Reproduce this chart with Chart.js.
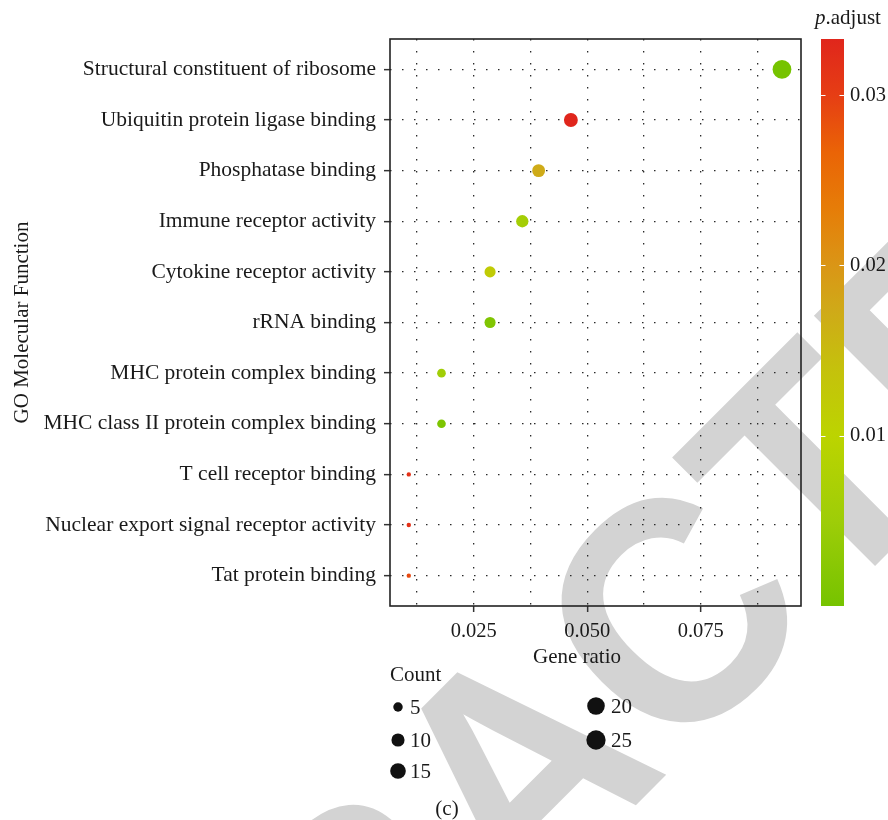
<!DOCTYPE html>
<html>
<head>
<meta charset="utf-8">
<script src="https://cdn.jsdelivr.net/npm/chart.js@4.4.1/dist/chart.umd.min.js"></script>
<style>
  html, body { margin: 0; padding: 0; background: #ffffff; overflow: hidden; }
  #wrap { width: 888px; height: 820px; position: relative; }
  canvas { display: block; }
</style>
</head>
<body>
<div id="wrap"><canvas id="dot" width="888" height="820"></canvas></div>
<script>
// GO molecular function enrichment (top to bottom)
const terms = [
  'Structural constituent of ribosome',
  'Ubiquitin protein ligase binding',
  'Phosphatase binding',
  'Immune receptor activity',
  'Cytokine receptor activity',
  'rRNA binding',
  'MHC protein complex binding',
  'MHC class II protein complex binding',
  'T cell receptor binding',
  'Nuclear export signal receptor activity',
  'Tat protein binding'
];
const geneRatio = [0.0929, 0.0464, 0.0393, 0.0357, 0.0286, 0.0286, 0.0179, 0.0179, 0.0107, 0.0107, 0.0107];
const geneCount = [26, 13, 11, 10, 8, 8, 5, 5, 3, 3, 3];
const pAdjust   = [0.0000, 0.0333, 0.0172, 0.0060, 0.0118, 0.0012, 0.0055, 0.0009, 0.0318, 0.0318, 0.0290];

// axis ticks
const ratioTicks = [0.025, 0.050, 0.075];
const ratioMinorTicks = [0.0125, 0.0375, 0.0625, 0.0875];
const pTicks = [0.01, 0.02, 0.03];
const countLegend = [5, 10, 15, 20, 25];

// ---- styling helpers ----
const SERIF = "'Liberation Serif', 'Times New Roman', serif";
const INK = '#1a1a1a';
const pMin = 0, pMax = 0.0333;

// colour ramp for p.adjust (0 = low, 1 = high)
const rampStops = [
  [0.00, [118, 195, 0]],
  [0.15, [158, 205, 8]],
  [0.30, [188, 212, 0]],
  [0.42, [197, 193, 12]],
  [0.52, [207, 170, 24]],
  [0.60, [218, 150, 22]],
  [0.70, [230, 125, 8]],
  [0.80, [234, 100, 6]],
  [0.90, [230, 62, 20]],
  [1.00, [224, 38, 28]]
];
function rampColor(t) {
  t = Math.max(0, Math.min(1, t));
  for (let i = 1; i < rampStops.length; i++) {
    const [t1, c1] = rampStops[i];
    const [t0, c0] = rampStops[i - 1];
    if (t <= t1) {
      const f = (t - t0) / (t1 - t0);
      const c = c0.map((v, k) => Math.round(v + (c1[k] - v) * f));
      return `rgb(${c[0]},${c[1]},${c[2]})`;
    }
  }
  const c = rampStops[rampStops.length - 1][1];
  return `rgb(${c[0]},${c[1]},${c[2]})`;
}
function pColor(p) { return rampColor((p - pMin) / (pMax - pMin)); }

const cMin = Math.min(...geneCount), cMax = Math.max(...geneCount);
function countRadius(n) {
  const t = Math.max(0, (n - cMin) / (cMax - cMin));
  return 2.2 + 7.2 * Math.sqrt(t);
}

const points = terms.map((t, i) => ({ x: geneRatio[i], y: i }));
const isMajor = v => ratioTicks.some(m => Math.abs(m - v) < 1e-9);
const noEdgePadding = s => { s.paddingTop = 0; s.paddingBottom = 0; s.paddingLeft = 0; s.paddingRight = 0; };

// ---- decorations drawn around the chart ----
const decor = {
  id: 'decor',
  beforeDraw(chart) {
    const ctx = chart.ctx;
    ctx.save();
    ctx.fillStyle = '#ffffff';
    ctx.fillRect(0, 0, chart.width, chart.height);
    // diagonal stamp behind the figure, laid out glyph by glyph around its centre
    ctx.translate(595, 846);
    ctx.rotate(-Math.PI / 4);
    ctx.scale(0.94, 1);
    ctx.font = "bold 320px 'Liberation Sans', Arial, sans-serif";
    if ('fontKerning' in ctx) ctx.fontKerning = 'none';
    ctx.textAlign = 'left';
    ctx.textBaseline = 'alphabetic';
    ctx.fillStyle = '#d3d3d3';
    const word = 'RETRACTED';
    const adv = [...word].map(ch => ctx.measureText(ch).width);
    let x = -adv.reduce((a, b) => a + b, 0) / 2;
    [...word].forEach((ch, i) => { ctx.fillText(ch, x, 0); x += adv[i]; });
    ctx.restore();
  },
  afterDatasetsDraw(chart) {
    const ctx = chart.ctx;
    const a = chart.chartArea;
    ctx.save();
    ctx.strokeStyle = '#222';
    ctx.lineWidth = 1.6;
    ctx.strokeRect(a.left, a.top, a.right - a.left, a.bottom - a.top);
    ctx.restore();
  },
  afterDraw(chart) {
    const ctx = chart.ctx;
    const ps = chart.scales.p;
    ctx.save();

    // colour bar
    const barL = 821, barW = 23;
    const yTop = ps.getPixelForValue(pMax), yBot = ps.getPixelForValue(pMin);
    const g = ctx.createLinearGradient(0, yBot, 0, yTop);
    rampStops.forEach(([t, c]) => g.addColorStop(t, `rgb(${c[0]},${c[1]},${c[2]})`));
    ctx.fillStyle = g;
    ctx.fillRect(barL, yTop, barW, yBot - yTop);
    ctx.strokeStyle = '#ffffff';
    ctx.lineWidth = 1;
    pTicks.forEach(v => {
      const y = Math.round(ps.getPixelForValue(v)) + 0.5;
      ctx.beginPath();
      ctx.moveTo(barL, y); ctx.lineTo(barL + 4.5, y);
      ctx.moveTo(barL + barW - 4.5, y); ctx.lineTo(barL + barW, y);
      ctx.stroke();
    });

    // colour bar title: p.adjust
    ctx.fillStyle = INK;
    ctx.textBaseline = 'alphabetic';
    ctx.textAlign = 'left';
    ctx.font = `italic 21px ${SERIF}`;
    ctx.fillText('p', 815, 24);
    const pw = ctx.measureText('p').width;
    ctx.font = `21px ${SERIF}`;
    ctx.fillText('.adjust', 815 + pw, 24);

    // x axis title
    ctx.textAlign = 'center';
    ctx.fillText('Gene ratio', 577, 663);

    // size legend
    ctx.textAlign = 'left';
    ctx.fillText('Count', 390, 681);
    const legendPos = [
      [398, 707], [398, 740], [398, 771],
      [596, 706], [596, 740]
    ];
    ctx.textBaseline = 'middle';
    countLegend.forEach((n, i) => {
      const [cx, cy] = legendPos[i];
      ctx.beginPath();
      ctx.fillStyle = '#111';
      ctx.arc(cx, cy, countRadius(n) + 0.4, 0, Math.PI * 2);
      ctx.fill();
      ctx.fillStyle = INK;
      ctx.fillText(String(n), cx + 12 + (i >= 3 ? 3 : 0), cy + 1);
    });

    // panel tag
    ctx.textAlign = 'center';
    ctx.fillText('(c)', 447, 809);
    ctx.restore();
  }
};

new Chart(document.getElementById('dot'), {
  type: 'scatter',
  data: {
    datasets: [{
      data: points,
      pointRadius: ctx => countRadius(geneCount[ctx.dataIndex]),
      pointHoverRadius: ctx => countRadius(geneCount[ctx.dataIndex]),
      pointBackgroundColor: ctx => pColor(pAdjust[ctx.dataIndex]),
      pointBorderWidth: 0,
      pointBorderColor: 'rgba(0,0,0,0)'
    }]
  },
  options: {
    responsive: false,
    animation: false,
    devicePixelRatio: 1,
    layout: { padding: { top: 39, right: 0, bottom: 0, left: 0 } },
    plugins: { legend: { display: false }, tooltip: { enabled: false } },
    scales: {
      x: {
        type: 'linear',
        min: 0.00656,
        max: 0.09709,
        afterBuildTicks: s => { s.ticks = [...ratioMinorTicks, ...ratioTicks].sort((a, b) => a - b).map(v => ({ value: v })); },
        afterFit: s => { s.height = 214; noEdgePadding(s); },
        ticks: {
          autoSkip: false, maxRotation: 0,
          padding: 7,
          color: INK,
          font: { family: SERIF, size: 20.5 },
          callback: v => isMajor(v) ? v.toFixed(3) : ''
        },
        grid: {
          color: '#2a2a2a', lineWidth: 1.3,
          drawTicks: true, tickLength: 6, tickWidth: 1.5,
          tickColor: c => (c.tick && isMajor(c.tick.value)) ? '#333' : 'rgba(0,0,0,0)'
        },
        border: { display: false, dash: [1.5, 10.5] }
      },
      y: {
        type: 'linear',
        reverse: true,
        min: -0.6,
        max: terms.length - 1 + 0.6,
        afterBuildTicks: s => { s.ticks = terms.map((t, i) => ({ value: i })); },
        afterFit: s => { s.width = 390; noEdgePadding(s); },
        ticks: {
          autoSkip: false,
          padding: 8,
          color: INK,
          font: { family: SERIF, size: 21.5 },
          callback: v => terms[v] ?? ''
        },
        grid: {
          color: '#2a2a2a', lineWidth: 1.3,
          drawTicks: true, tickLength: 6, tickWidth: 1.5, tickColor: '#333'
        },
        border: { display: false, dash: [1.5, 10.5] },
        title: {
          display: true,
          text: 'GO Molecular Function',
          color: INK,
          font: { family: SERIF, size: 21 },
          padding: { top: 10, bottom: 0 }
        }
      },
      p: {
        type: 'linear',
        position: 'right',
        min: pMin,
        max: pMax,
        afterBuildTicks: s => { s.ticks = pTicks.map(v => ({ value: v })); },
        afterFit: s => { s.width = 87; noEdgePadding(s); },
        ticks: {
          padding: 41,
          color: INK,
          font: { family: SERIF, size: 20.5 },
          callback: v => v.toFixed(2)
        },
        grid: { display: false, drawOnChartArea: false },
        border: { display: false }
      }
    }
  },
  plugins: [decor]
});
</script>
</body>
</html>
